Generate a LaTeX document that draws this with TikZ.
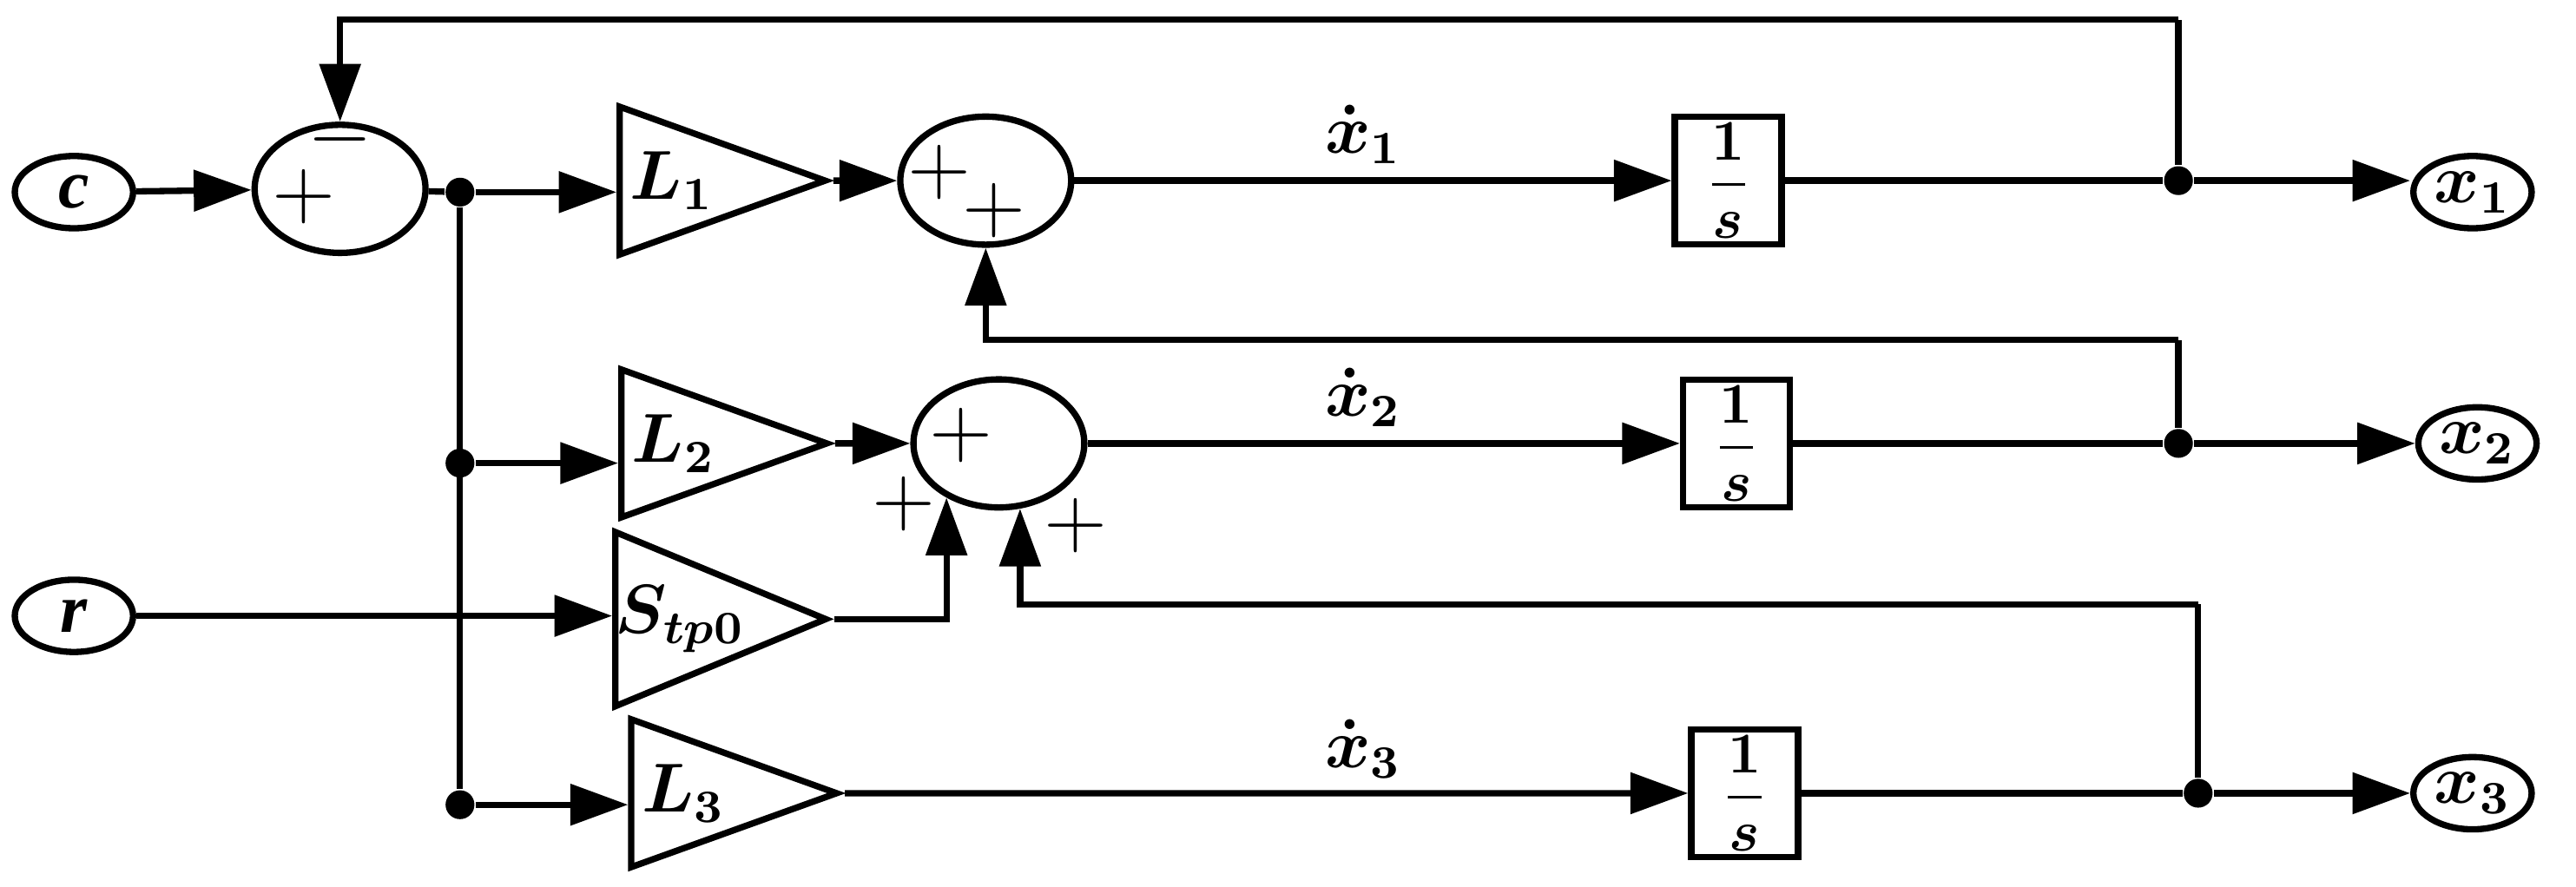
\documentclass[tikz,border=0pt]{standalone}
\usepackage{amsmath}
\usepackage{fontspec}
\setmainfont{Liberation Serif}
\usetikzlibrary{shapes.geometric,arrows.meta}
\tikzset{
  sig/.style={line width=1.1pt,-{Triangle[length=10pt,width=7pt]}},
  wire/.style={line width=1.1pt},
  port/.style={ellipse,draw,line width=1.1pt,minimum width=0.72cm,minimum height=0.44cm,inner sep=0pt,font=\bfseries\itshape\large},
  summer/.style={ellipse,draw,line width=1.1pt,minimum width=1.04cm,minimum height=0.78cm},
  gain/.style={isosceles triangle,draw,line width=1.1pt,isosceles triangle stretches,minimum width=0.9cm,minimum height=1.25cm,inner sep=0pt,font=\large},
  integ/.style={rectangle,draw,line width=1.1pt,minimum width=0.65cm,minimum height=0.52cm,inner sep=1pt},
  dot/.style={circle,fill,inner sep=0pt,minimum size=5pt},
  sign/.style={font=\Large}
}
\begin{document}
\begin{tikzpicture}
\useasboundingbox (0,0) rectangle (15.68,5.40);
% first row
\node[port] (c) at (0.45,4.23) {c};
\node[summer] (sum1) at (2.07,4.25) {};
\node[dot] (j1) at (2.80,4.23) {};
\node[gain] (L1) at (4.09,4.30) {$\boldsymbol{L_1}$\hspace{2mm}};
\node[summer] (sum2) at (6.00,4.30) {};
\node[integ] (int1) at (10.52,4.30) {$\dfrac{\boldsymbol{1}}{\boldsymbol{s}}$};
\node[dot] (b1) at (13.26,4.30) {};
\node[port] (x1) at (15.05,4.23) {$\boldsymbol{x_1}$};
% second row
\node[dot] (j2) at (2.80,2.58) {};
\node[gain] (L2) at (4.10,2.70) {$\boldsymbol{L_2}$\hspace{2mm}};
\node[summer] (sum3) at (6.08,2.70) {};
\node[integ] (int2) at (10.57,2.70) {$\dfrac{\boldsymbol{1}}{\boldsymbol{s}}$};
\node[dot] (b2) at (13.26,2.70) {};
\node[port] (x2) at (15.08,2.70) {$\boldsymbol{x_2}$};
% third row
\node[port] (r) at (0.45,1.65) {r};
\node[gain] (Stp) at (4.14,1.63) {$\boldsymbol{S_{tp0}}$\hspace{1mm}};
% fourth row
\node[dot] (j3) at (2.80,0.50) {};
\node[gain] (L3) at (4.16,0.57) {$\boldsymbol{L_3}$\hspace{2mm}};
\node[integ] (int3) at (10.62,0.57) {$\dfrac{\boldsymbol{1}}{\boldsymbol{s}}$};
\node[dot] (b3) at (13.38,0.57) {};
\node[port] (x3) at (15.05,0.57) {$\boldsymbol{x_3}$};
% feedback corners
\coordinate (f1) at (13.26,5.28);
\coordinate (f2) at (13.26,3.33);
\coordinate (f3) at (13.38,1.72);
% connectors
\draw[sig] (c) -- (sum1);
\draw[wire] (sum1) -- (j1);
\draw[sig] (j1) -- (j1 -| L1.west);
\draw[wire] (j1) -- (j3);
\draw[sig] (j2) -- (j2 -| L2.west);
\draw[sig] (j3) -- (j3 -| L3.west);
\draw[sig] (L1) -- (sum2);
\draw[sig] (sum2) -- (int1);
\draw[wire] (int1) -- (b1);
\draw[sig] (b1) -- (b1 -| x1.west);
\draw[wire] (b1) -- (f1);
\draw[sig] (f1) -| (sum1.north);
\draw[sig] (L2) -- (sum3);
\draw[sig] (sum3) -- (int2);
\draw[wire] (int2) -- (b2);
\draw[sig] (b2) -- (x2);
\draw[wire] (b2) -- (f2);
\draw[sig] (f2) -| (sum2.south);
\draw[sig] (r) -- (r -| Stp.west);
\draw[sig] (Stp.east) -| (sum3.226);
\draw[sig] (L3) -- (int3);
\draw[wire] (int3) -- (b3);
\draw[sig] (b3) -- (x3);
\draw[wire] (b3) -- (f3);
\draw[sig] (f3) -| (sum3.288);
% signs and labels
\node[sign] (s1a) at (1.85,4.20) {$+$};
\node[sign] (s1b) at (2.07,4.55) {$-$};
\node[sign] (s2a) at (5.72,4.35) {$+$};
\node[sign] (s2b) at (6.05,4.12) {$+$};
\node[sign] (s3a) at (5.85,2.75) {$+$};
\node[sign] (s3b) at (5.50,2.33) {$+$};
\node[sign] (s3c) at (6.55,2.20) {$+$};
\node[font=\large] (d1) at (8.30,4.58) {$\boldsymbol{\dot{x}_1}$};
\node[font=\large] (d2) at (8.30,2.98) {$\boldsymbol{\dot{x}_2}$};
\node[font=\large] (d3) at (8.30,0.84) {$\boldsymbol{\dot{x}_3}$};
\end{tikzpicture}
\end{document}
